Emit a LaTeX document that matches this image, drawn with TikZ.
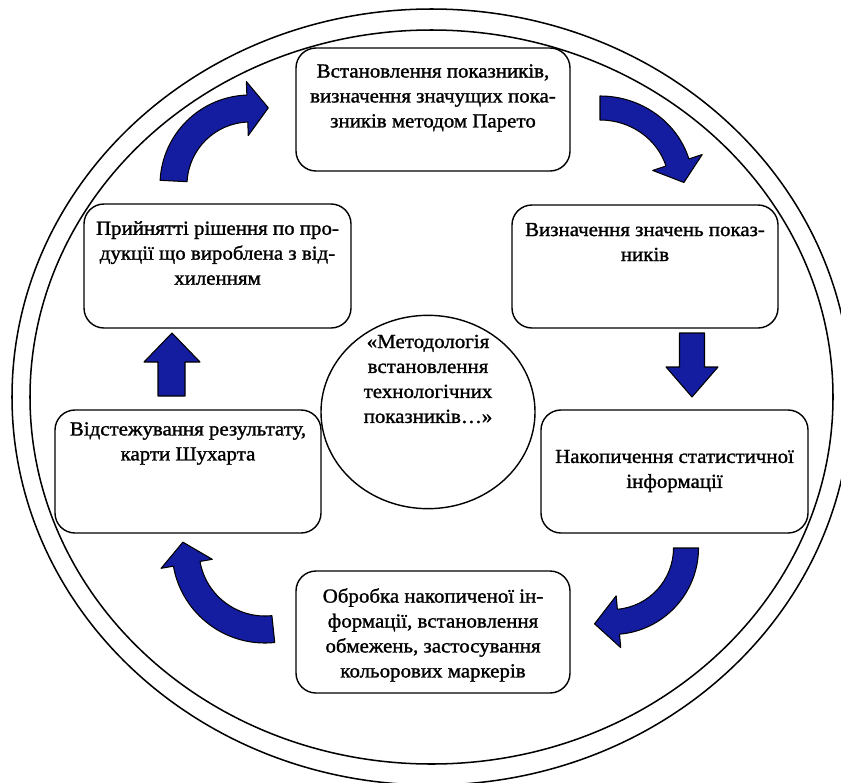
\documentclass[tikz,border=0pt]{standalone}
\usepackage{fontspec}
\setmainfont{Liberation Serif}
\newfontfamily\stagefont{Liberation Serif}[FakeStretch=1.05, FakeBold=1.3]
\usetikzlibrary{shapes.geometric}
\definecolor{arrowblue}{RGB}{20,28,160}

% Bent block arrow along an elliptical arc.
% #1,#2 centre; #3,#4 radii of the centre line; #5 tail angle; #6 head-base angle;
% #7 half shaft width; #8 half head width; #9 head length
\newcommand\bentarrow[9]{%
  \pgfmathsetmacro\baS{(#6>#5)?1:-1}%
  \pgfmathsetmacro\baBx{#1+#3*cos(#6)}%
  \pgfmathsetmacro\baBy{#2+#4*sin(#6)}%
  \pgfmathsetmacro\baTx{-(#3/100)*sin(#6)*\baS}%
  \pgfmathsetmacro\baTy{(#4/100)*cos(#6)*\baS}%
  \pgfmathsetmacro\baL{sqrt(\baTx*\baTx+\baTy*\baTy)}%
  \pgfmathsetmacro\baTx{\baTx/\baL}%
  \pgfmathsetmacro\baTy{\baTy/\baL}%
  \pgfmathsetmacro\baNx{(#4/100)*cos(#6)}%
  \pgfmathsetmacro\baNy{(#3/100)*sin(#6)}%
  \pgfmathsetmacro\baM{sqrt(\baNx*\baNx+\baNy*\baNy)}%
  \pgfmathsetmacro\baNx{\baNx/\baM}%
  \pgfmathsetmacro\baNy{\baNy/\baM}%
  \pgfmathsetmacro\baOx{#3+#7}\pgfmathsetmacro\baOy{#4+#7}%
  \pgfmathsetmacro\baIx{#3-#7}\pgfmathsetmacro\baIy{#4-#7}%
  \draw[blockarrow] ({#1+\baOx*cos(#5)},{#2+\baOy*sin(#5)})
    arc[start angle=#5, end angle=#6, x radius=\baOx, y radius=\baOy]
    -- ({\baBx+#8*\baNx},{\baBy+#8*\baNy})
    -- ({\baBx+#9*\baTx},{\baBy+#9*\baTy})
    -- ({\baBx-#8*\baNx},{\baBy-#8*\baNy})
    -- ({#1+\baIx*cos(#6)},{#2+\baIy*sin(#6)})
    arc[start angle=#6, end angle=#5, x radius=\baIx, y radius=\baIy]
    -- cycle;
}

\tikzset{
  ring/.style={draw=black, line width=1.3pt},
  stagebox/.style={draw=black, line width=1.2pt, rounded corners=0.6cm,
    minimum height=3.69cm, inner sep=0pt, outer sep=0pt},
  txt/.style={align=center, inner sep=0pt, font=\stagefont\fontsize{17}{21.3}\selectfont},
  blockarrow/.style={fill=arrowblue, draw=black, line width=0.9pt, line join=round},
}

\begin{document}
\begin{tikzpicture}[x=0.03cm, y=-0.03cm]
  \useasboundingbox (0,0) rectangle (841,782);
  \clip (0,0) rectangle (841,782);

  % double outer ring
  \coordinate (mid) at (431.5,397);
  \draw[ring] (mid) ellipse [x radius=419.5, y radius=388];
  \draw[ring] (mid) ellipse [x radius=401.5, y radius=367];

  % stage boxes
  \node[stagebox, minimum width=8.22cm] (b1) at (433,109.5) {};
  \node[stagebox, minimum width=7.98cm] (b2) at (645,266.5) {};
  \node[stagebox, minimum width=8.01cm] (b3) at (674.5,471.5) {};
  \node[stagebox, minimum width=8.22cm, minimum height=3.66cm] (b4) at (433,632) {};
  \node[stagebox, minimum width=7.98cm] (b5) at (188,471.5) {};
  \node[stagebox, minimum width=8.01cm, minimum height=3.72cm] (b6) at (217.5,266) {};

  % central circle
  \node[ellipse, draw=black, line width=1.2pt, minimum width=6.42cm,
        minimum height=5.8cm, inner sep=0pt] (core) at (428,412) {};

  % texts
  \node[txt] (t1) at (433,98) {Встановлення показників,\\визначення значущих пока-\\зників методом Парето};
  \node[txt] (t2) at (645,242) {Визначення значень показ-\\ників};
  \node[txt] (t3) at (674.5,471) {Накопичення статистичної\\інформації};
  \node[txt] (t4) at (433,635) {Обробка накопиченої ін-\\формації, встановлення\\обмежень, застосування\\кольорових маркерів};
  \node[txt] (t5) at (188,443.5) {Відстежування результату,\\карти Шухарта};
  \node[txt] (t6) at (217.5,253) {Прийнятті рішення по про-\\дукції що вироблена з від-\\хиленням};
  \node[txt] (t0) at (428,379) {«Методологія\\встановлення\\технологічних\\показників…»};

  % bent arrows between the stages
  \bentarrow{250}{185}{76.5}{76.5}{183}{268}{13.5}{27}{21}
  \bentarrow{600}{185}{81}{77}{270}{343}{12}{26}{21}
  \bentarrow{612}{548}{74}{74}{0}{85}{12.5}{26}{24}
  \bentarrow{265}{550}{79.5}{79.5}{84}{170}{13.5}{26}{22}

  % straight arrows
  \draw[blockarrow] (679.5,333) -- (704.5,333) -- (704.5,367) -- (718,367)
    -- (692,397) -- (666,367) -- (679.5,367) -- cycle;
  \draw[blockarrow] (158,396) -- (185,396) -- (185,362) -- (200,362)
    -- (172,333) -- (144,362) -- (158,362) -- cycle;
\end{tikzpicture}
\end{document}
